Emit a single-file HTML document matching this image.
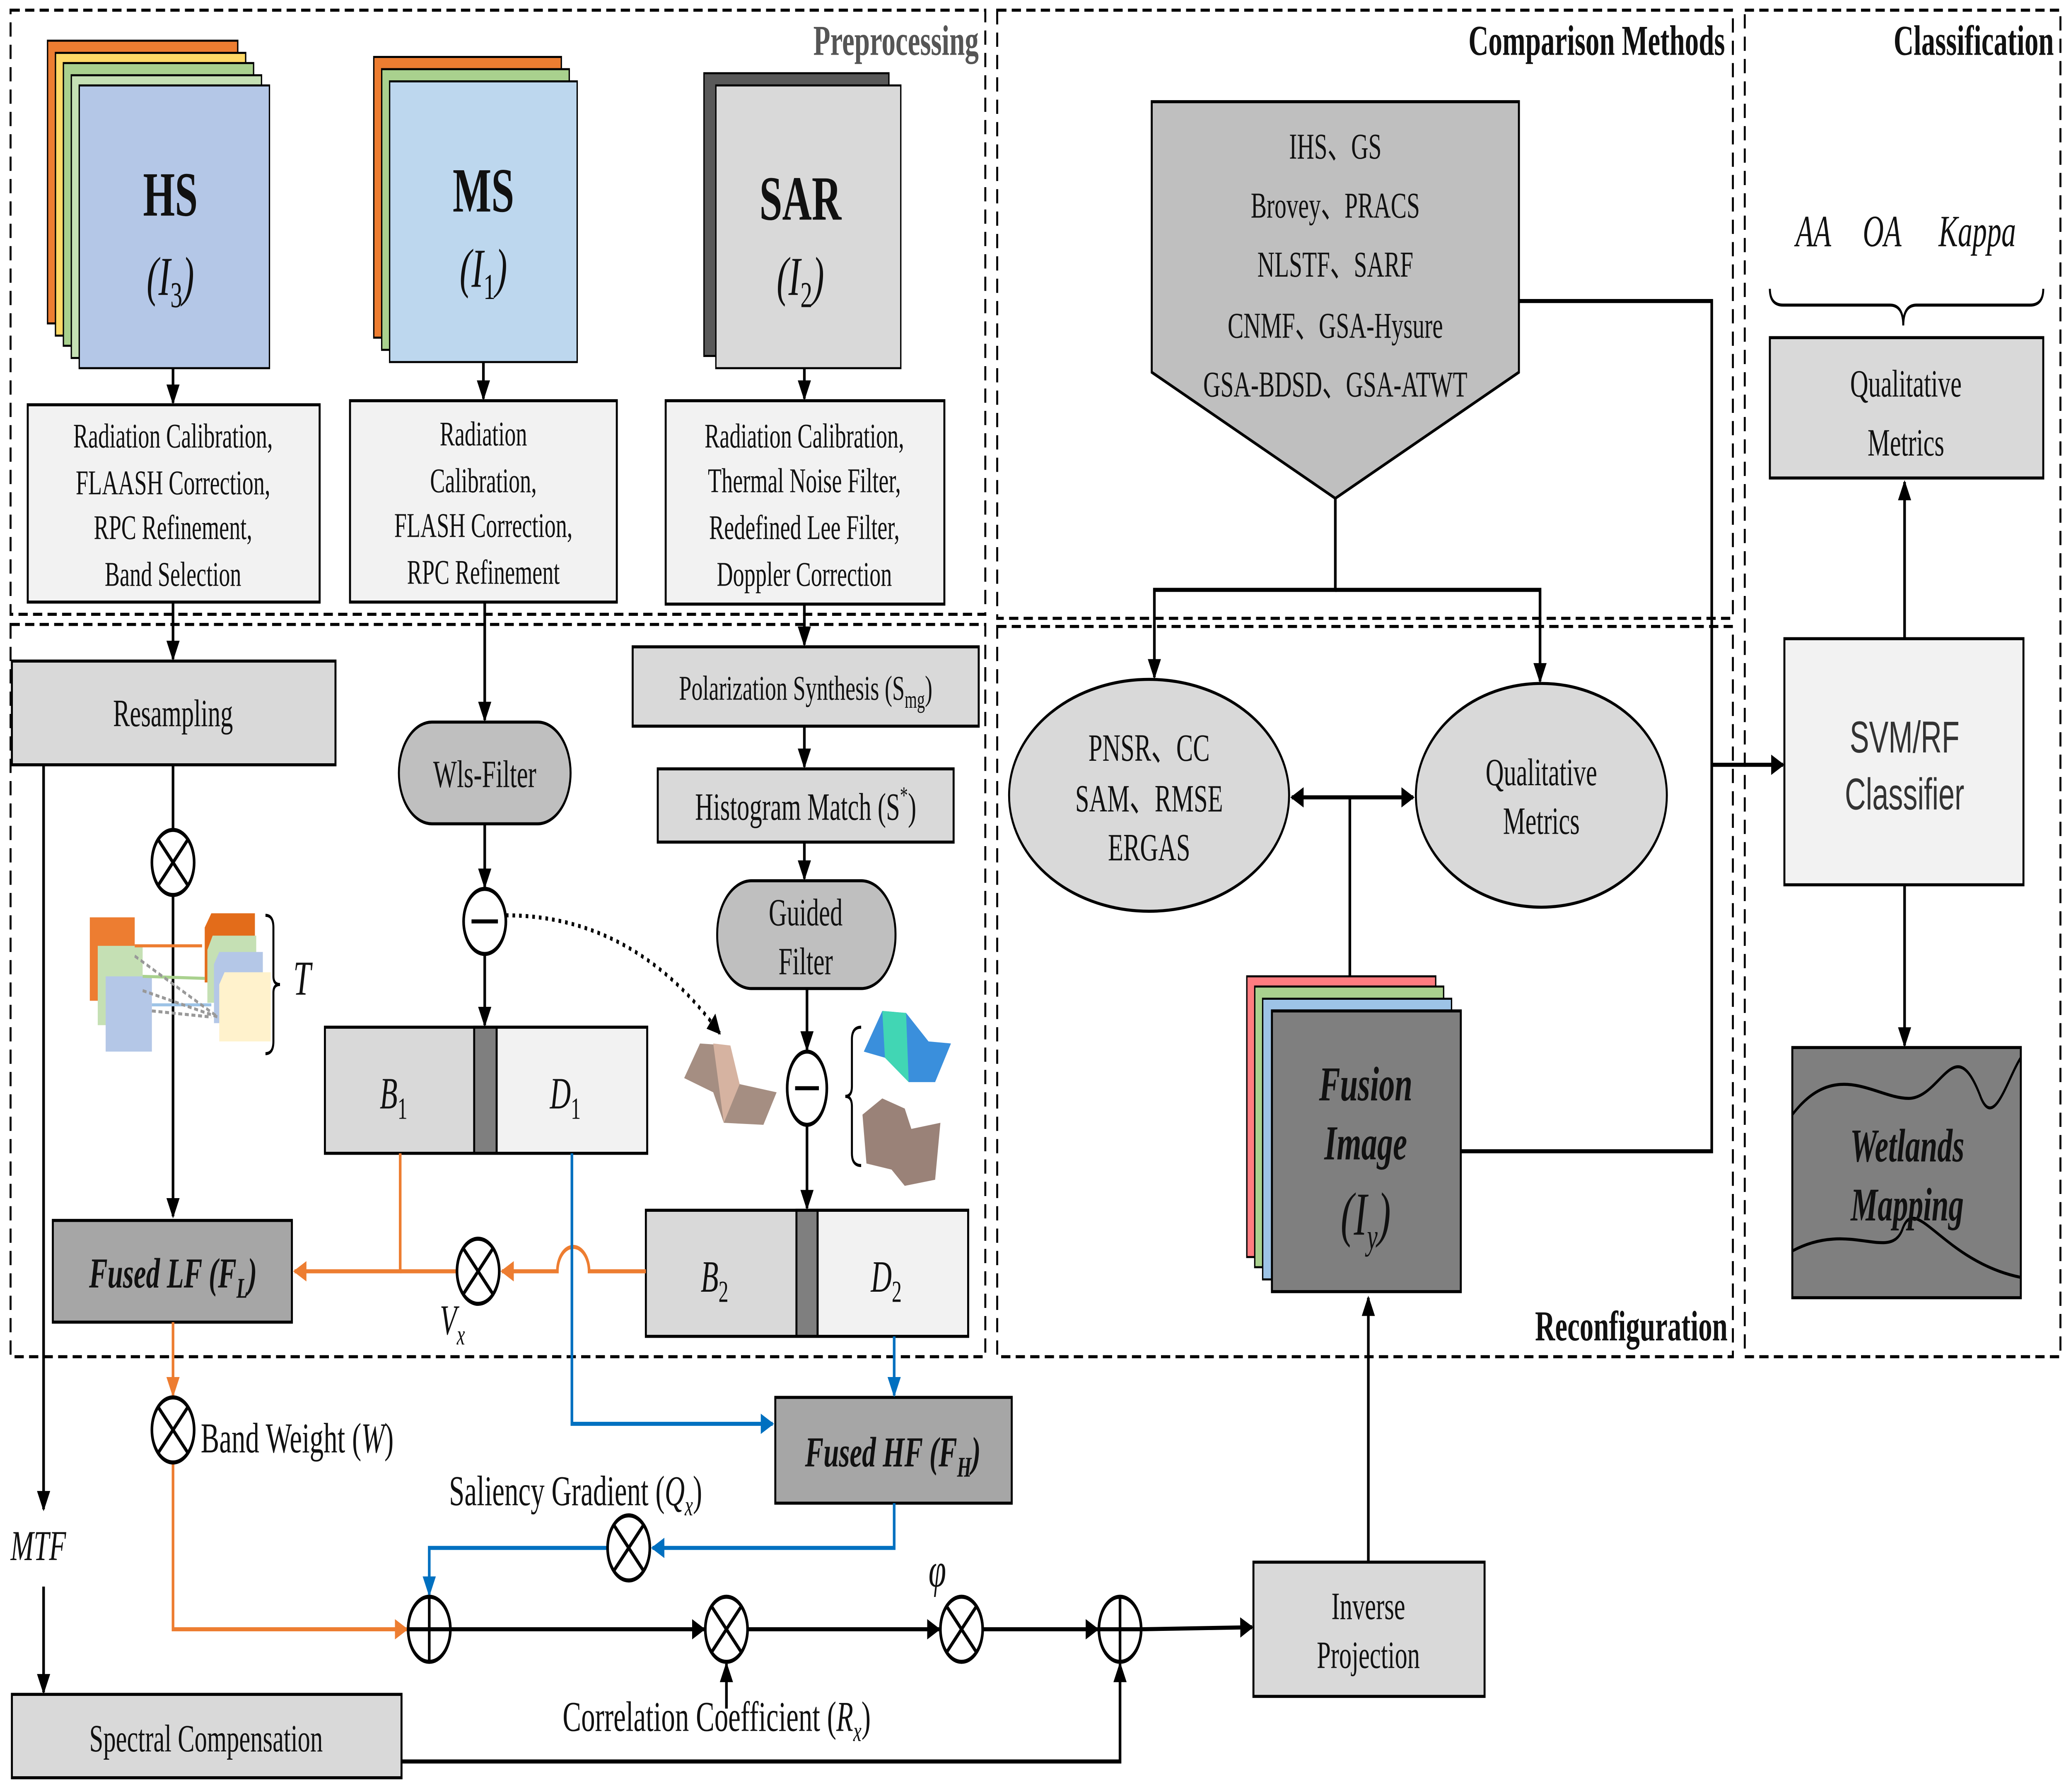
<!DOCTYPE html>
<html><head><meta charset="utf-8"><style>
html,body{margin:0;padding:0;background:#fff;width:100%;height:100%;overflow:hidden}
svg{display:block;position:fixed;left:0;top:0;width:100vw;height:100vh}
text{font-family:"Liberation Serif",serif;fill:#111}
</style></head><body>
<svg xmlns="http://www.w3.org/2000/svg" viewBox="0 0 1568 881" preserveAspectRatio="none">
<defs>
<marker id="a" viewBox="0 0 10 10" refX="9" refY="5" markerWidth="5" markerHeight="5" orient="auto-start-reverse"><path d="M0,0L10,5L0,10z" fill="#000"/></marker>
<marker id="ao" viewBox="0 0 10 10" refX="9" refY="5" markerWidth="5" markerHeight="5" orient="auto"><path d="M0,0L10,5L0,10z" fill="#ed7d31"/></marker>
<marker id="ab" viewBox="0 0 10 10" refX="9" refY="5" markerWidth="5" markerHeight="5" orient="auto"><path d="M0,0L10,5L0,10z" fill="#0070c0"/></marker>
</defs>
<rect width="1568" height="881" fill="#fff"/>
<g fill="none" stroke="#000" stroke-width="1.5" stroke-dasharray="7,4">
<rect x="8" y="5" width="738" height="297"/>
<rect x="8" y="307" width="738" height="360"/>
<rect x="755" y="5" width="557" height="299"/>
<rect x="755" y="308" width="557" height="359"/>
<rect x="1321" y="5" width="239" height="662"/>
</g>
<g font-weight="bold" font-size="21">
<text x="741" y="27" text-anchor="end" style="fill:#555">Preprocessing</text>
<text x="1306" y="27" text-anchor="end">Comparison Methods</text>
<text x="1555" y="27" text-anchor="end">Classification</text>
<text x="1308" y="659" text-anchor="end">Reconfiguration</text>
</g>
<g stroke="#000" stroke-width="1">
<rect x="36" y="20" width="144" height="139" fill="#ed7d31"/>
<rect x="42" y="26" width="144" height="139" fill="#ffd966"/>
<rect x="48" y="31" width="144" height="139" fill="#a9d18e"/>
<rect x="54" y="37" width="144" height="139" fill="#c5e0b4"/>
<rect x="60" y="42" width="144" height="139" fill="#b4c7e7"/>
<rect x="283" y="28" width="142" height="138" fill="#ed7d31"/>
<rect x="289" y="34" width="142" height="138" fill="#a9d18e"/>
<rect x="295" y="40" width="142" height="138" fill="#bdd7ee"/>
<rect x="533" y="36" width="140" height="139" fill="#595959"/>
<rect x="542" y="42" width="140" height="139" fill="#d9d9d9"/>
</g>
<g font-weight="bold" font-size="31" text-anchor="middle">
<text x="129" y="106">HS</text><text x="366" y="104">MS</text><text x="606" y="108">SAR</text>
</g>
<g font-size="27" text-anchor="middle" font-style="italic">
<text x="129" y="145">(<tspan>I</tspan><tspan font-size="18" dy="6" font-style="normal">3</tspan><tspan dy="-6">)</tspan></text>
<text x="366" y="141">(<tspan>I</tspan><tspan font-size="18" dy="6" font-style="normal">1</tspan><tspan dy="-6">)</tspan></text>
<text x="606" y="145">(<tspan>I</tspan><tspan font-size="18" dy="6" font-style="normal">2</tspan><tspan dy="-6">)</tspan></text>
</g>
<g stroke="#000" stroke-width="1.5">
<rect x="21" y="199" width="221" height="97" fill="#f2f2f2"/>
<rect x="265" y="197" width="202" height="99" fill="#f2f2f2"/>
<rect x="504" y="197" width="211" height="100" fill="#f2f2f2"/>
<rect x="9" y="325" width="245" height="51" fill="#d9d9d9"/>
<rect x="302" y="355" width="130" height="50" rx="25" fill="#bfbfbf"/>
<rect x="479" y="318" width="262" height="39" fill="#d9d9d9"/>
<rect x="498" y="378" width="224" height="36" fill="#d9d9d9"/>
<rect x="543" y="433" width="135" height="53" rx="26" fill="#bfbfbf"/>
<rect x="40" y="600" width="181" height="50" fill="#a6a6a6"/>
<rect x="587" y="687" width="179" height="52" fill="#a6a6a6"/>
<rect x="9" y="833" width="295" height="41" fill="#d9d9d9"/>
<rect x="949" y="768" width="175" height="66" fill="#d9d9d9"/>
<rect x="1340" y="166" width="207" height="69" fill="#d9d9d9"/>
<rect x="1351" y="314" width="181" height="121" fill="#f2f2f2"/>
<rect x="246" y="505" width="244" height="62" fill="#d9d9d9"/>
<rect x="376" y="505" width="114" height="62" fill="#f2f2f2"/>
<rect x="359" y="505" width="17" height="62" fill="#7f7f7f"/>
<rect x="489" y="595" width="244" height="62" fill="#d9d9d9"/>
<rect x="619" y="595" width="114" height="62" fill="#f2f2f2"/>
<rect x="603" y="595" width="16" height="62" fill="#7f7f7f"/>
</g>
<g font-size="17" text-anchor="middle">
<text x="131" y="220">Radiation Calibration,</text><text x="131" y="243">FLAASH  Correction,</text><text x="131" y="265">RPC  Refinement,</text><text x="131" y="288">Band Selection</text>
<text x="366" y="219">Radiation</text><text x="366" y="242">Calibration,</text><text x="366" y="264">FLASH  Correction,</text><text x="366" y="287">RPC Refinement</text>
<text x="609" y="220">Radiation Calibration,</text><text x="609" y="242">Thermal Noise Filter,</text><text x="609" y="265">Redefined Lee Filter,</text><text x="609" y="288">Doppler Correction</text>
<text x="610" y="344">Polarization Synthesis (S<tspan font-size="12" dy="4">mg</tspan><tspan dy="-4">)</tspan></text>
</g>
<g font-size="19" text-anchor="middle">
<text x="131" y="357">Resampling</text>
<text x="367" y="387">Wls-Filter</text>
<text x="610" y="403">Histogram Match (S<tspan font-size="12" dy="-8">*</tspan><tspan dy="8">)</tspan></text>
<text x="610" y="455">Guided</text><text x="610" y="479">Filter</text>
<text x="156" y="861">Spectral Compensation</text>
<text x="1036" y="796">Inverse</text><text x="1036" y="820">Projection</text>
<text x="1443" y="195">Qualitative</text><text x="1443" y="224">Metrics</text>
</g>
<g font-size="22" font-style="italic" text-anchor="middle">
<text x="298" y="545">B<tspan font-size="15" dy="5" font-style="normal">1</tspan></text>
<text x="428" y="545">D<tspan font-size="15" dy="5" font-style="normal">1</tspan></text>
<text x="541" y="635">B<tspan font-size="15" dy="5" font-style="normal">2</tspan></text>
<text x="671" y="635">D<tspan font-size="15" dy="5" font-style="normal">2</tspan></text>
</g>
<g font-size="21" font-style="italic" font-weight="bold" text-anchor="middle">
<text x="131" y="633">Fused LF (<tspan>F</tspan><tspan font-size="14" dy="5">L</tspan><tspan dy="-5">)</tspan></text>
<text x="676" y="721">Fused HF (<tspan>F</tspan><tspan font-size="14" dy="5">H</tspan><tspan dy="-5">)</tspan></text>
</g>
<g stroke="#000" stroke-width="2" fill="none">
<line x1="131" y1="181" x2="131" y2="198" marker-end="url(#a)"/>
<line x1="366" y1="178" x2="366" y2="196" marker-end="url(#a)"/>
<line x1="609" y1="181" x2="609" y2="196" marker-end="url(#a)"/>
<line x1="131" y1="296" x2="131" y2="324" marker-end="url(#a)"/>
<line x1="131" y1="376" x2="131" y2="408"/>
<line x1="131" y1="440" x2="131" y2="598" marker-end="url(#a)"/>
<line x1="33" y1="376" x2="33" y2="742" marker-end="url(#a)"/>
<line x1="33" y1="780" x2="33" y2="832" marker-end="url(#a)"/>
<line x1="367" y1="296" x2="367" y2="354" marker-end="url(#a)"/>
<line x1="367" y1="405" x2="367" y2="436" marker-end="url(#a)"/>
<line x1="367" y1="469" x2="367" y2="504" marker-end="url(#a)"/>
<line x1="609" y1="297" x2="609" y2="317" marker-end="url(#a)"/>
<line x1="609" y1="357" x2="609" y2="377" marker-end="url(#a)"/>
<line x1="609" y1="414" x2="609" y2="432" marker-end="url(#a)"/>
<line x1="611" y1="486" x2="611" y2="516" marker-end="url(#a)"/>
<line x1="611" y1="553" x2="611" y2="594" marker-end="url(#a)"/>
<path d="M383,450 Q480,450 545,508" stroke-dasharray="2,3" marker-end="url(#a)"/>
<line x1="341" y1="801" x2="533" y2="801" marker-end="url(#a)"/>
<line x1="566" y1="801" x2="711" y2="801" marker-end="url(#a)"/>
<line x1="744" y1="801" x2="831" y2="801" marker-end="url(#a)"/>
<line x1="864" y1="801" x2="948" y2="800" marker-end="url(#a)"/>
<line x1="550" y1="840" x2="550" y2="818" marker-end="url(#a)"/>
<polyline points="304,866 848,866 848,818" marker-end="url(#a)"/>
<line x1="1036" y1="768" x2="1036" y2="638" marker-end="url(#a)"/>
<polyline points="1106,566 1296,566 1296,148 1150,148"/>
<line x1="1296" y1="376" x2="1350" y2="376" marker-end="url(#a)"/>
<polyline points="1011,245 1011,290 874,290 874,333" marker-end="url(#a)"/>
<polyline points="1011,290 1166,290 1166,335" marker-end="url(#a)"/>
<line x1="978" y1="392" x2="1070" y2="392" marker-start="url(#a)" marker-end="url(#a)"/>
<line x1="1022" y1="480" x2="1022" y2="392"/>
<line x1="1442" y1="314" x2="1442" y2="237" marker-end="url(#a)"/>
<line x1="1442" y1="435" x2="1442" y2="514" marker-end="url(#a)"/>
<path d="M1340,142 q0,8 10,8 h81 q10,0 10,10 q0,-10 10,-10 h86 q10,0 10,-8" stroke-width="1.5"/>
<path d="M201,450 q6,0 6,6 v24 q0,4 5,4 q-5,0 -5,4 v24 q0,6 -6,6" stroke-width="1.5"/>
<path d="M652,505 q-7,0 -7,6 v23 q0,5 -5,5 q5,0 5,5 v23 q0,6 7,6" stroke-width="1.5"/>
</g>
<g stroke="#ed7d31" stroke-width="2" fill="none">
<polyline points="303,567 303,625 223,625" marker-end="url(#ao)"/>
<line x1="346" y1="625" x2="303" y2="625"/>
<path d="M489,625 L446,625 A12,12 0 0 0 422,625 L380,625" marker-end="url(#ao)"/>
<line x1="131" y1="650" x2="131" y2="686" marker-end="url(#ao)"/>
<polyline points="131,719 131,801 308,801" marker-end="url(#ao)"/>
</g>
<g stroke="#0070c0" stroke-width="2" fill="none">
<polyline points="433,567 433,700 585,700" marker-end="url(#ab)"/>
<line x1="677" y1="657" x2="677" y2="686" marker-end="url(#ab)"/>
<polyline points="677,739 677,761 494,761" marker-end="url(#ab)"/>
<polyline points="460,761 325,761 325,784" marker-end="url(#ab)"/>
</g>
<g stroke="#000" stroke-width="2" fill="#fff">
<circle cx="131" cy="424" r="16"/><path d="M120,413L142,435M142,413L120,435"/>
<circle cx="367" cy="453" r="16"/><path d="M357,453H377"/>
<ellipse cx="611" cy="535" rx="15" ry="18"/><path d="M602,535H620"/>
<circle cx="362" cy="625" r="16"/><path d="M351,614L373,636M373,614L351,636"/>
<circle cx="131" cy="703" r="16"/><path d="M120,692L142,714M142,692L120,714"/>
<circle cx="476" cy="761" r="16"/><path d="M465,750L487,772M487,750L465,772"/>
<circle cx="325" cy="801" r="16"/><path d="M309,801H341M325,785V817"/>
<circle cx="550" cy="801" r="16"/><path d="M539,790L561,812M561,790L539,812"/>
<circle cx="728" cy="801" r="16"/><path d="M717,790L739,812M739,790L717,812"/>
<circle cx="848" cy="801" r="16"/><path d="M832,801H864M848,785V817"/>
</g>
<g font-size="21">
<text x="152" y="714">Band Weight (<tspan font-style="italic">W</tspan>)</text>
<text x="340" y="740">Saliency Gradient (<tspan font-style="italic">Q</tspan><tspan font-size="14" dy="5" font-style="italic">x</tspan><tspan dy="-5">)</tspan></text>
<text x="426" y="851">Correlation Coefficient (<tspan font-style="italic">R</tspan><tspan font-size="14" dy="5" font-style="italic">x</tspan><tspan dy="-5">)</tspan></text>
<text x="8" y="767" font-style="italic">MTF</text>
<text x="703" y="780" font-style="italic" font-size="24">φ</text>
<text x="333" y="656" font-style="italic">V<tspan font-size="14" dy="5">x</tspan></text>
<text x="222" y="489" font-style="italic" font-size="24">T</text>
</g>
<rect x="68" y="451" width="34" height="41" fill="#ed7d31"/>
<rect x="74" y="465" width="34" height="39" fill="#c5e0b4"/>
<rect x="80" y="480" width="35" height="37" fill="#b4c7e7"/>
<polygon points="155,456 160,449 193,449 193,483 155,483" fill="#e36c1a"/>
<polygon points="157,467 161,460 194,460 194,493 157,493" fill="#c5e0b4"/>
<polygon points="162,474 166,468 199,468 199,503 162,503" fill="#b4c7e7"/>
<polygon points="166,484 170,478 205,478 205,512 166,512" fill="#fff2cc"/>
<g stroke-width="1.5" fill="none">
<line x1="102" y1="465" x2="153" y2="465" stroke="#ed7d31"/>
<line x1="108" y1="480" x2="155" y2="481" stroke="#a9d18e"/>
<line x1="115" y1="494" x2="160" y2="494" stroke="#9dc3e6"/>
<path d="M102,470L165,500M108,487L165,500M115,497L160,500" stroke="#999" stroke-dasharray="3,2"/>
</g>
<polygon points="518,530 530,513 552,514 560,533 588,537 578,553 548,552 540,537" fill="#a58e82"/>
<polygon points="540,513 553,514 560,533 548,552" fill="#d6b3a1"/>
<polygon points="654,517 668,497 686,498 703,512 720,513 708,532 688,532 670,520" fill="#3a8fdc"/>
<polygon points="668,497 686,498 688,532 670,520" fill="#41d6b4"/>
<polygon points="653,548 668,540 685,545 690,555 712,552 708,580 685,583 675,575 656,572" fill="#9a8278"/>
<polygon points="872,50 1150,50 1150,183 1011,245 872,183" fill="#bfbfbf" stroke="#000" stroke-width="1.5"/>
<g font-size="18" text-anchor="middle" style="font-family:'Liberation Serif','Noto Serif CJK SC',serif">
<text x="1011" y="78">IHS、GS</text><text x="1011" y="107">Brovey、PRACS</text><text x="1011" y="136">NLSTF、SARF</text><text x="1011" y="166">CNMF、GSA-Hysure</text><text x="1011" y="195">GSA-BDSD、GSA-ATWT</text>
</g>
<ellipse cx="870" cy="391" rx="106" ry="57" fill="#d9d9d9" stroke="#000" stroke-width="1.5"/>
<ellipse cx="1167" cy="391" rx="95" ry="55" fill="#d9d9d9" stroke="#000" stroke-width="1.5"/>
<g font-size="19" text-anchor="middle" style="font-family:'Liberation Serif','Noto Serif CJK SC',serif">
<text x="870" y="374">PNSR、CC</text><text x="870" y="399">SAM、RMSE</text><text x="870" y="423">ERGAS</text>
<text x="1167" y="386">Qualitative</text><text x="1167" y="410">Metrics</text>
</g>
<g stroke="#000" stroke-width="1">
<rect x="944" y="480" width="143" height="138" fill="#ff7c80"/>
<rect x="950" y="485" width="143" height="138" fill="#a9d18e"/>
<rect x="956" y="491" width="143" height="138" fill="#9dc3e6"/>
<rect x="963" y="497" width="143" height="138" fill="#7f7f7f" stroke-width="1.5"/>
</g>
<g font-size="24" font-weight="bold" font-style="italic" text-anchor="middle">
<text x="1034" y="541">Fusion</text><text x="1034" y="570">Image</text>
<text x="1034" y="607" font-weight="normal" font-size="30">(I<tspan font-size="18" dy="7">y</tspan><tspan dy="-7">)</tspan></text>
</g>
<g font-size="22" font-style="italic" text-anchor="middle">
<text x="1373" y="121">AA</text><text x="1425" y="121">OA</text><text x="1497" y="121">Kappa</text>
</g>
<text x="1442" y="370" font-size="22" text-anchor="middle" style="font-family:'Liberation Sans',sans-serif;fill:#333">SVM/RF</text>
<text x="1442" y="398" font-size="22" text-anchor="middle" style="font-family:'Liberation Sans',sans-serif;fill:#333">Classifier</text>
<rect x="1357" y="515" width="173" height="123" fill="#7f7f7f" stroke="#000" stroke-width="1.5"/>
<path d="M1357,548 C1390,520 1420,540 1445,540 C1470,540 1480,505 1500,540 C1510,555 1520,530 1530,520" stroke="#000" stroke-width="1.5" fill="none"/>
<path d="M1357,615 C1400,600 1430,620 1440,605 C1450,585 1470,620 1530,628" stroke="#000" stroke-width="1.5" fill="none"/>
<g font-size="23" font-weight="bold" font-style="italic" text-anchor="middle">
<text x="1444" y="571">Wetlands</text><text x="1444" y="600">Mapping</text>
</g>
</svg>
</body></html>
